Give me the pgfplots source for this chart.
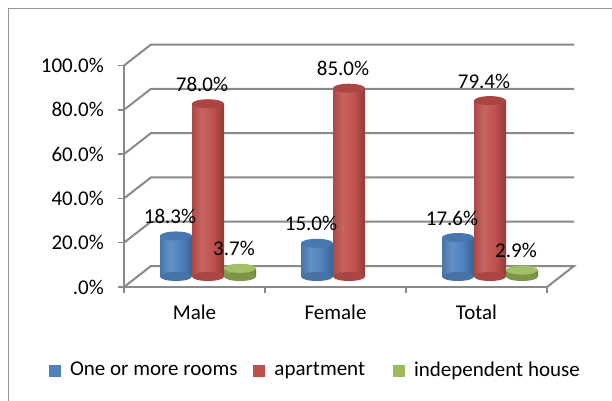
\documentclass[border=0pt]{standalone}
\usepackage{pgfplots}
\pgfplotsset{compat=1.18}
\usepackage{fontspec}
\setmainfont{Carlito}
\usetikzlibrary{shapes.geometric}
\definecolor{gridc}{RGB}{137,137,137}
\definecolor{frameC}{RGB}{150,150,150}
\definecolor{cB}{RGB}{79,129,189}
\definecolor{cR}{RGB}{192,80,77}
\definecolor{cG}{RGB}{155,187,89}
\pgfdeclarehorizontalshading{cylB}{100bp}{color(0bp)=(cB!90!black); color(25bp)=(cB!90!black); color(40bp)=(cB!88!white); color(58bp)=(cB); color(75bp)=(cB!75!black); color(100bp)=(cB!75!black)}
\pgfdeclarehorizontalshading{cylR}{100bp}{color(0bp)=(cR!90!black); color(25bp)=(cR!90!black); color(40bp)=(cR!88!white); color(58bp)=(cR); color(75bp)=(cR!75!black); color(100bp)=(cR!75!black)}
\pgfdeclarehorizontalshading{cylG}{100bp}{color(0bp)=(cG!80!black); color(25bp)=(cG!80!black); color(40bp)=(cG!95!white); color(58bp)=(cG!90!black); color(75bp)=(cG!68!black); color(100bp)=(cG!68!black)}
\pgfplotsset{
  base/.style={scale only axis, width=423pt, height=221.5pt, xmin=0, xmax=3, ymin=0, ymax=100, clip=false},
  shiftto/.style={forget plot, every axis plot post/.append style={bar shift=#1}},
  ell/.style 2 args={draw=none, fill=none, shiftto=#2, nodes near coords={\mbox{}}, every node near coord/.append style={ellipse, fill=#1, draw=none, minimum width=32pt, minimum height=9pt, inner sep=0pt, anchor=center}},
  body/.style 2 args={draw=none, shade, shading=#1, shiftto=#2},
  lab/.style={draw=none, fill=none, shiftto=#1,
    nodes near coords={\pgfmathprintnumber[fixed,fixed zerofill,precision=1,assume math mode=true]{\pgfplotspointmeta}\%},
    every node near coord/.append style={anchor=center, xshift=-6pt, yshift=19.5pt, text=black, inner sep=0pt}},
  sq/.style={legend image code/.code={\pgfsetfillcolor{#1}\pgfpathrectangle{\pgfpoint{0pt}{-6pt}}{\pgfpoint{12pt}{12pt}}\pgfusepath{fill}}},
}
\begin{document}
\fontsize{21}{25}\selectfont
\begin{tikzpicture}
\useasboundingbox (0,0) rectangle (612pt,400pt);
\fill[white] (0,0) rectangle (612pt,400pt);
\draw[frameC, line width=1pt] (8pt,-10pt) -- (8pt,391pt) -- (630pt,391pt);
% front frame
\begin{axis}[base, at={(124pt,113pt)}, anchor=south west,
  axis lines*=left, axis line style={gridc, line width=2pt},
  tick style={gridc, line width=1.5pt}, major tick length=6pt, tick align=outside,
  xtick={0,1,2,3}, xticklabels={},
  extra x ticks={0.5,1.5,2.5}, extra x tick labels={Male,Female,Total},
  extra x tick style={major tick length=0pt},
  xticklabel style={inner sep=0pt, yshift=-18pt},
  ytick={0,20,40,60,80,100},
  yticklabels={.0\%,20.0\%,40.0\%,60.0\%,80.0\%,100.0\%},
  yticklabel style={inner sep=0pt, xshift=-14pt},
]
\draw[gridc, line width=2pt, line join=miter] (axis cs:0,0) -- ++(27pt,21pt) -- ++(423pt,0pt) -- ++(-27pt,-21pt);
\draw[gridc, line width=2pt] (axis cs:0,20) -- ++(27pt,21pt) -- ++(423pt,0pt);
\draw[gridc, line width=2pt] (axis cs:0,40) -- ++(27pt,21pt) -- ++(423pt,0pt);
\draw[gridc, line width=2pt] (axis cs:0,60) -- ++(27pt,21pt) -- ++(423pt,0pt);
\draw[gridc, line width=2pt] (axis cs:0,80) -- ++(27pt,21pt) -- ++(423pt,0pt);
\draw[gridc, line width=2pt] (axis cs:0,100) -- ++(27pt,21pt) -- ++(423pt,0pt);
\end{axis}
% cylinders, set back half the depth
\begin{axis}[base, at={(137.5pt,123.5pt)}, anchor=south west, hide axis, ybar=0pt, bar width=32pt,
  legend columns=3,
  legend style={draw=none, fill=none, inner sep=0pt, outer sep=0pt,
    at={(-0.2092,-0.425)}, anchor=west,
    nodes={inner sep=0pt},
    /tikz/every odd column/.append style={column sep=9pt},
    /tikz/column 2/.append style={column sep=16pt},
    /tikz/column 4/.append style={column sep=28pt}},
  legend cell align=left]
% bottom ellipses
\addplot[ell={cB!88!black}{-32pt}] coordinates {(0.5,0) (1.5,0) (2.5,0)};
\addplot[ell={cR!88!black}{0pt}] coordinates {(0.5,0) (1.5,0) (2.5,0)};
\addplot[ell={cG!80!black}{32pt}] coordinates {(0.5,0) (2.5,0)};
% bodies, one bar per plot
\addplot[body={cylB}{-32pt}] coordinates {(0.5,18.3)};
\addplot[body={cylR}{0pt}] coordinates {(0.5,78.0)};
\addplot[body={cylG}{32pt}] coordinates {(0.5,3.7)};
\addplot[body={cylB}{-32pt}] coordinates {(1.5,15.0)};
\addplot[body={cylR}{0pt}] coordinates {(1.5,85.0)};
\addplot[body={cylB}{-32pt}] coordinates {(2.5,17.6)};
\addplot[body={cylR}{0pt}] coordinates {(2.5,79.4)};
\addplot[body={cylG}{32pt}] coordinates {(2.5,2.9)};
% top ellipses
\addplot[ell={cB!93!black}{-32pt}] coordinates {(0.5,18.3) (1.5,15.0) (2.5,17.6)};
\addplot[ell={cR!88!black}{0pt}] coordinates {(0.5,78.0) (1.5,85.0) (2.5,79.4)};
\addplot[ell={cG!92!white}{32pt}] coordinates {(0.5,3.7) (2.5,2.9)};
% value labels
\addplot[lab=-32pt] coordinates {(0.5,18.3) (1.5,15.0) (2.5,17.6)};
\addplot[lab=0pt] coordinates {(0.5,78.0) (1.5,85.0) (2.5,79.4)};
\addplot[lab=32pt] coordinates {(0.5,3.7) (2.5,2.9)};
% legend
\addlegendimage{sq=cB}
\addlegendentry{One or more rooms}
\addlegendimage{sq=cR}
\addlegendentry{apartment}
\addlegendimage{sq=cG}
\addlegendentry{independent house}
\end{axis}
\end{tikzpicture}
\end{document}
